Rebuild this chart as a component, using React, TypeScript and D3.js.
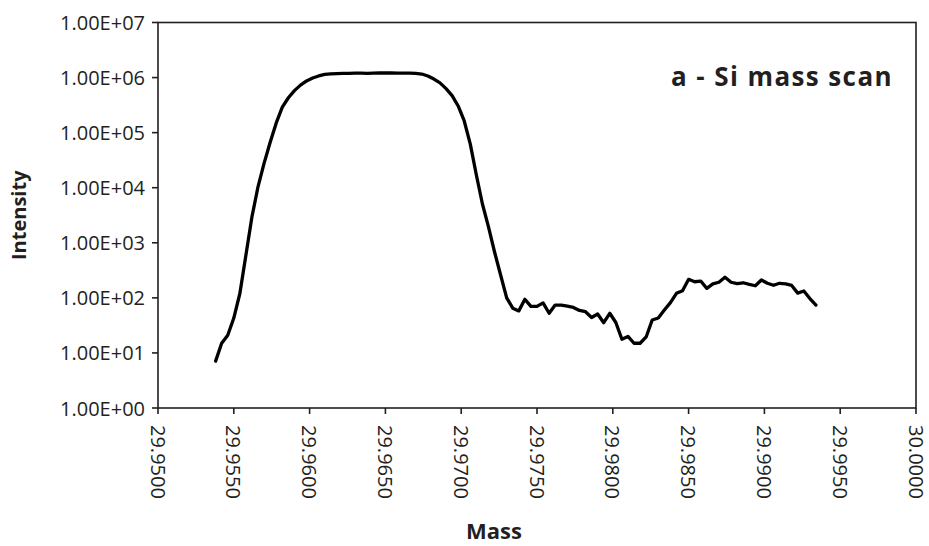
import React from "react";
import * as d3 from "d3";

const masses = [
  29.9538, 29.9542, 29.9546, 29.955, 29.9554, 29.9558, 29.9562, 29.9566, 29.957, 29.9574,
  29.9578, 29.9582, 29.9586, 29.959, 29.9594, 29.9598, 29.9602, 29.9606, 29.961, 29.9614,
  29.9618, 29.9622, 29.9626, 29.963, 29.9634, 29.9638, 29.9642, 29.9646, 29.965, 29.9654,
  29.9658, 29.9662, 29.9666, 29.967, 29.9674, 29.9678, 29.9682, 29.9686, 29.969, 29.9694,
  29.9698, 29.9702, 29.9706, 29.971, 29.9714, 29.9718, 29.9722, 29.9726, 29.973, 29.9734,
  29.9738, 29.9742, 29.9746, 29.975, 29.9754, 29.9758, 29.9762, 29.9766, 29.977, 29.9774,
  29.9778, 29.9782, 29.9786, 29.979, 29.9794, 29.9798, 29.9802, 29.9806, 29.981, 29.9814,
  29.9818, 29.9822, 29.9826, 29.983, 29.9834, 29.9838, 29.9842, 29.9846, 29.985, 29.9854,
  29.9858, 29.9862, 29.9866, 29.987, 29.9874, 29.9878, 29.9882, 29.9886, 29.989, 29.9894,
  29.9898, 29.9902, 29.9906, 29.991, 29.9914, 29.9918, 29.9922, 29.9926, 29.993, 29.9934,
];

const intensities = [
  7.1, 15, 21, 43, 120, 600, 3000, 10500, 28000, 67000,
  150000, 290000, 430000, 580000, 730000, 870000, 980000, 1070000, 1140000, 1170000,
  1180000, 1190000, 1190000, 1200000, 1200000, 1190000, 1200000, 1210000, 1210000, 1210000,
  1200000, 1200000, 1200000, 1190000, 1160000, 1070000, 940000, 800000, 630000, 470000,
  305000, 163000, 62000, 17000, 5060, 1940, 680, 260, 100, 65,
  58, 94, 70, 70, 81, 52.5, 74, 74, 71, 67,
  59, 56, 44, 51, 35.4, 52.5, 35.7, 17.7, 19.9, 15,
  15, 19.5, 39.6, 43, 60, 82, 121, 135, 217, 196,
  202, 149, 179, 192, 236, 192, 181, 188, 176, 166,
  211, 184, 169, 184, 179, 168, 122, 133, 97, 74,
];

const xTicks = [29.95, 29.955, 29.96, 29.965, 29.97, 29.975, 29.98, 29.985, 29.99, 29.995, 30.0];
const yTicks = [1, 10, 100, 1000, 10000, 100000, 1000000, 10000000];

const chartTitle = "a - Si mass scan";
const xTitle = "Mass";
const yTitle = "Intensity";

const W = 929;
const H = 546;
const L = 158;
const R = 916;
const T = 22.5;
const B = 408;

const FONT = "'Open Sans', 'Liberation Sans', sans-serif";
const AXIS_COLOR = "#231f20";

export default function App() {
  const x = d3.scaleLinear().domain([29.95, 30.0]).range([L, R]);
  const y = d3.scaleLog().domain([1, 1e7]).range([B, T]);
  const data = masses.map((m, i) => [m, intensities[i]] as [number, number]);
  const line = d3
    .line<[number, number]>()
    .x((d) => x(d[0]))
    .y((d) => y(d[1]))
    .curve(d3.curveLinear);

  const fmtY = (v: number) => {
    const e = Math.round(Math.log10(v));
    return `1.00E+${String(e).padStart(2, "0")}`;
  };
  const fmtX = d3.format(".4f");

  return (
    <svg
      width={W}
      height={H}
      style={{ position: "absolute", left: 0, top: 0, background: "#fff" }}
    >
      <rect x={0} y={0} width={W} height={H} fill="#fff" />
      <rect x={L} y={T} width={R - L} height={B - T} fill="none" stroke={AXIS_COLOR} strokeWidth={1.6} />
      {yTicks.map((t) => (
        <g key={"y" + t}>
          <line x1={L - 6} x2={L} y1={y(t)} y2={y(t)} stroke={AXIS_COLOR} strokeWidth={1.6} />
          <text
            x={145}
            y={y(t)}
            textAnchor="end"
            dominantBaseline="central"
            fontFamily={FONT}
            fontSize={20}
            fill="#231f20"
          >
            {fmtY(t)}
          </text>
        </g>
      ))}
      {xTicks.map((t) => (
        <g key={"x" + t}>
          <line x1={x(t)} x2={x(t)} y1={B} y2={B + 6} stroke={AXIS_COLOR} strokeWidth={1.6} />
          <text
            transform={`translate(${x(t)},${B + 17}) rotate(90)`}
            textAnchor="start"
            dominantBaseline="central"
            fontFamily={FONT}
            fontSize={20}
            fill="#231f20"
          >
            {fmtX(t)}
          </text>
        </g>
      ))}
      <path
        d={line(data) || ""}
        fill="none"
        stroke="#000"
        strokeWidth={3.3}
        strokeLinejoin="round"
        strokeLinecap="round"
      />
      <text
        x={893}
        y={86}
        textAnchor="end"
        fontFamily={FONT}
        fontWeight="bold"
        fontSize={26}
        letterSpacing={1.4}
        fill="#231f20"
      >
        {chartTitle}
      </text>
      <text
        x={494}
        y={539}
        textAnchor="middle"
        fontFamily={FONT}
        fontWeight="bold"
        fontSize={22}
        fill="#231f20"
      >
        {xTitle}
      </text>
      <text
        transform={`translate(18,${(T + B) / 2}) rotate(-90)`}
        textAnchor="middle"
        dominantBaseline="central"
        fontFamily={FONT}
        fontWeight="bold"
        fontSize={20}
        fill="#231f20"
      >
        {yTitle}
      </text>
    </svg>
  );
}
